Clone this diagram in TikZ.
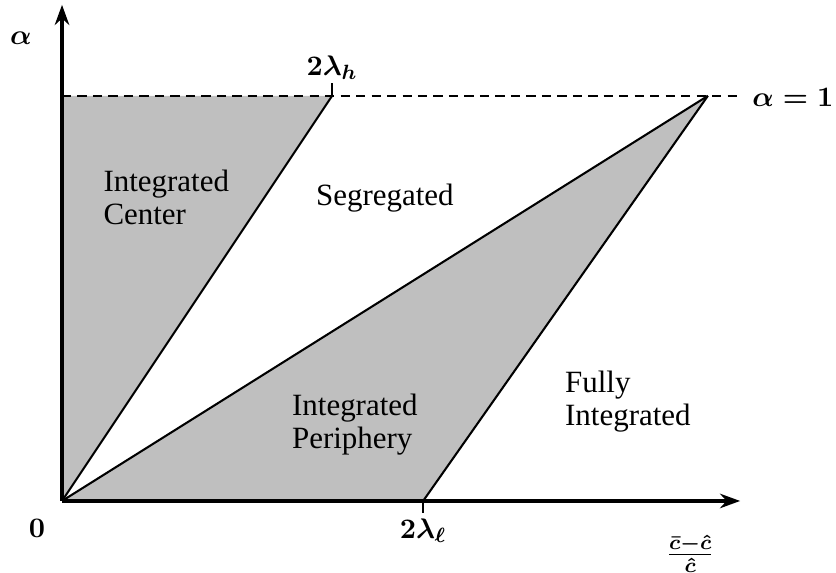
\documentclass[tikz,border=0pt,12pt]{standalone}
\usepackage[no-math]{fontspec}
\setmainfont{Liberation Serif}
\usepackage{tikz}
\usetikzlibrary{arrows.meta}

\begin{document}
\begin{tikzpicture}[
    >={Stealth[length=7.8pt, width=5.6pt]},
    font=\fontsize{12}{12.8}\selectfont,
    axis/.style={->, line width=1.9pt},
    border/.style={line width=0.8pt},
    region/.style={fill=black!25},
    level/.style={dashed, line width=0.8pt, dash pattern=on 3.6pt off 2.4pt},
    tick/.style={line width=0.8pt},
    sym/.style={font=\fontsize{11}{12}\selectfont\boldmath},
    lbl/.style={align=left, inner sep=0pt}
]
\useasboundingbox (-0.845, -0.981) rectangle (10.546, 6.826);

% corner points
\coordinate (O)    at (0, 0);
\coordinate (Ytop) at (0, 6.76);
\coordinate (Xend) at (9.24, 0);
\coordinate (T)    at (0, 5.52);
\coordinate (Tend) at (9.24, 5.52);
\coordinate (H)    at (3.68, 5.52);
\coordinate (Htop) at (3.68, 5.70);
\coordinate (A)    at (8.80, 5.52);
\coordinate (L)    at (4.92, 0);
\coordinate (Lbot) at (4.92, -0.16);

% shaded regions
\fill[region] (O) -- (T) -- (H) -- cycle;
\fill[region] (O) -- (A) -- (L) -- cycle;

% boundaries
\draw[level] (T) -- (Tend);
\draw[border] (O) -- (H);
\draw[border] (O) -- (A);
\draw[border] (L) -- (A);
\draw[tick] (H) -- (Htop);
\draw[tick] (L) -- (Lbot);

% axes
\draw[axis] (O) -- (Ytop);
\draw[axis] (O) -- (Xend);

% labels
\node[sym] (alpha) at (-0.56, 6.31) {$\alpha$};
\node[sym] (zero) at (-0.34, -0.37) {$0$};
\node[sym, anchor=west, inner sep=0pt] (one) at (9.40, 5.50) {$\alpha=1$};
\node[sym, anchor=south, inner sep=1pt] (lh) at (Htop) {$2\lambda_h$};
\node[sym, anchor=north, inner sep=2pt] (ll) at (Lbot) {$2\lambda_\ell$};
\node[sym] (xlab) at (8.56, -0.72) {$\frac{\bar{c}-\hat{c}}{\hat{c}}$};

\node[lbl] (center) at (1.42, 4.13) {Integrated\\Center};
\node[lbl] (segr) at (4.40, 4.13) {Segregated};
\node[lbl] (periph) at (3.99, 1.04) {Integrated\\Periphery};
\node[lbl] (fully) at (7.71, 1.35) {Fully\\Integrated};
\end{tikzpicture}
\end{document}
